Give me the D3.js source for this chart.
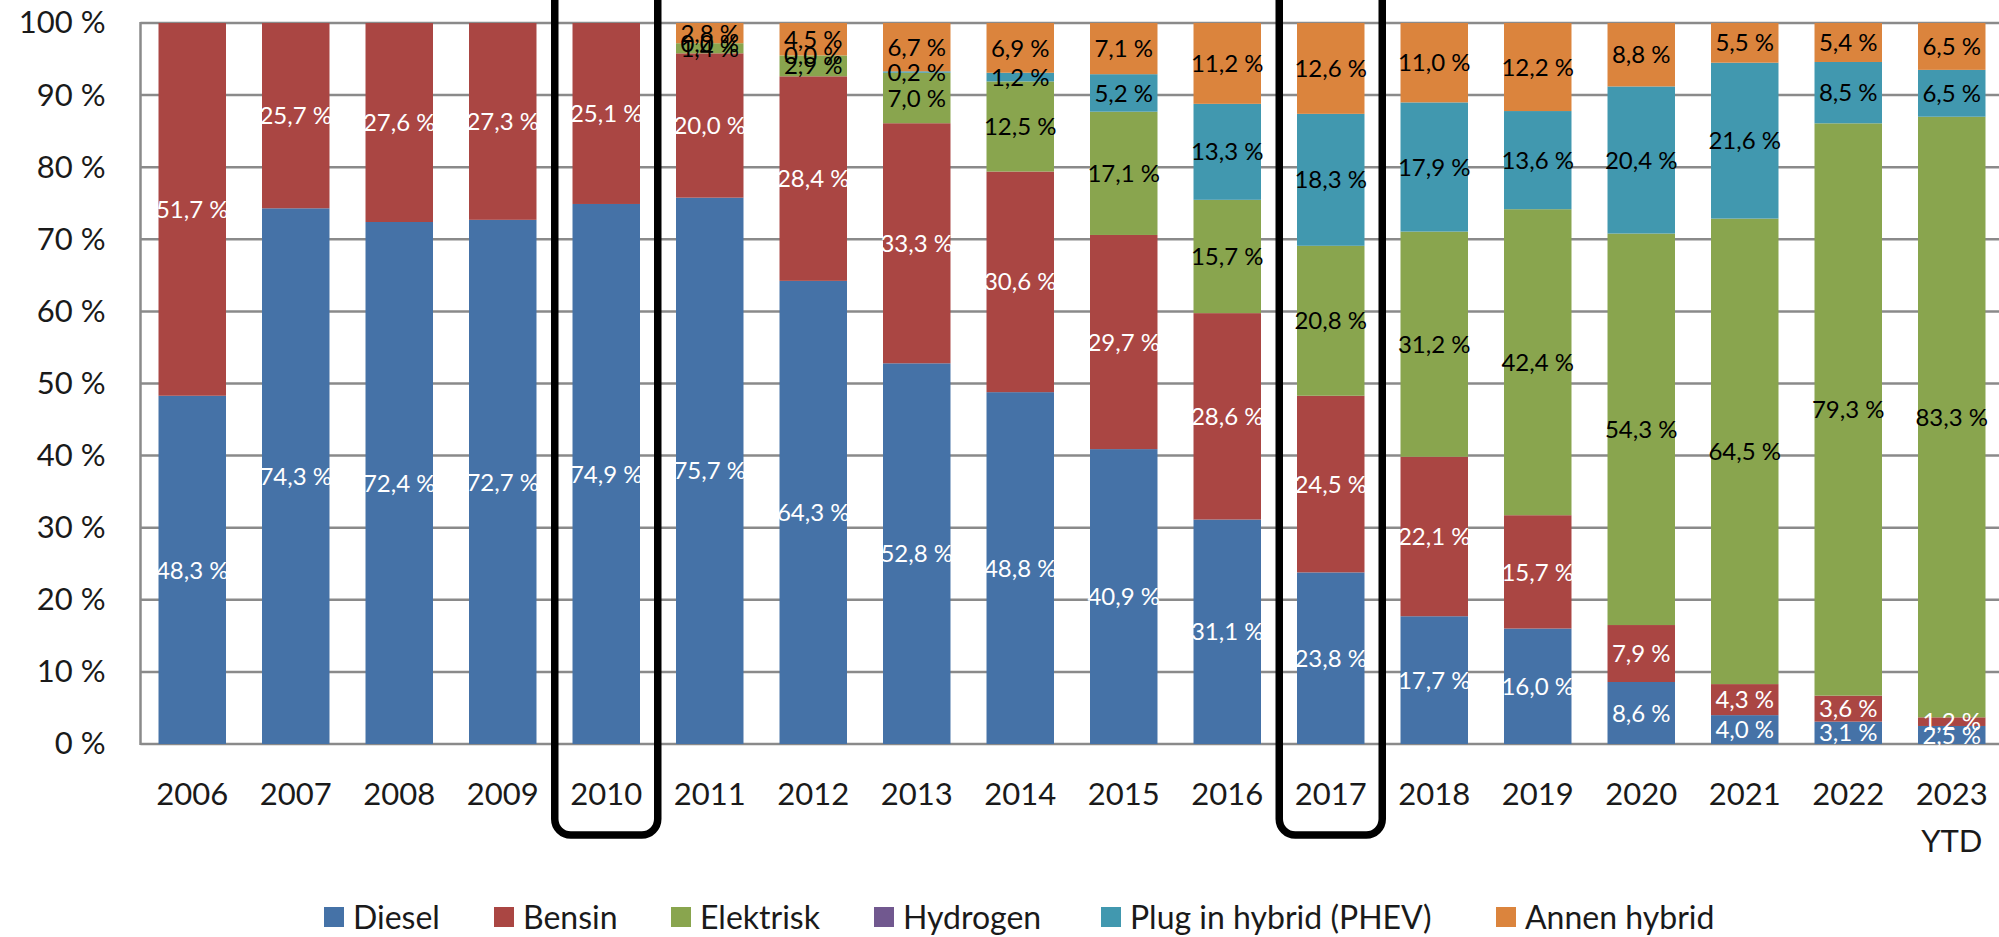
<!DOCTYPE html>
<html>
<head>
<meta charset="utf-8">
<script src="https://cdn.jsdelivr.net/npm/d3@7"></script>
<style>
  html, body { margin: 0; padding: 0; background: #fff; overflow: hidden; }
  text { font-family: Lato, 'Open Sans', sans-serif; }
</style>
</head>
<body>
<div id="chart"></div>
<script>
// years on the x axis (last one gets a second line)
var years = ['2006', '2007', '2008', '2009', '2010', '2011', '2012', '2013', '2014',
    '2015', '2016', '2017', '2018', '2019', '2020', '2021', '2022', '2023 YTD']

// share of new cars per fuel type, percent (null = no label / no segment)
var diesel    = [48.3, 74.3, 72.4, 72.7, 74.9, 75.7, 64.3, 52.8, 48.8, 40.9, 31.1, 23.8, 17.7, 16.0, 8.6, 4.0, 3.1, 2.5]
var bensin    = [51.7, 25.7, 27.6, 27.3, 25.1, 20.0, 28.4, 33.3, 30.6, 29.7, 28.6, 24.5, 22.1, 15.7, 7.9, 4.3, 3.6, 1.2]
var elektrisk = [null, null, null, null, null, 1.4, 2.9, 7.0, 12.5, 17.1, 15.7, 20.8, 31.2, 42.4, 54.3, 64.5, 79.3, 83.3]
var hydrogen  = [null, null, null, null, null, 0.0, 0.0, null, null, null, null, null, null, null, null, null, null, null]
var phev      = [null, null, null, null, null, null, null, 0.2, 1.2, 5.2, 13.3, 18.3, 17.9, 13.6, 20.4, 21.6, 8.5, 6.5]
var annen     = [null, null, null, null, null, 2.8, 4.5, 6.7, 6.9, 7.1, 11.2, 12.6, 11.0, 12.2, 8.8, 5.5, 5.4, 6.5]

var seriesNames = ['Diesel', 'Bensin', 'Elektrisk', 'Hydrogen', 'Plug in hybrid (PHEV)', 'Annen hybrid']
var seriesData = [diesel, bensin, elektrisk, hydrogen, phev, annen]
var colors = ['#4572a7', '#aa4643', '#89a54e', '#71588f', '#4198af', '#db843d']
var labelColors = ['#fff', '#fff', '#000', '#000', '#000', '#000']

var yTicks = [0, 10, 20, 30, 40, 50, 60, 70, 80, 90, 100]
var highlighted = ['2010', '2017']

var width = 1999
var height = 937
var margin = { top: 23, left: 140.5, bottom: 744 }

var svg = d3.select('#chart').append('svg')
    .attr('width', width)
    .attr('height', height)

var x = d3.scaleBand()
    .domain(years)
    .range([margin.left, margin.left + 18 * 103.5])
    .paddingInner(0.348)
    .paddingOuter(0.174)

var y = d3.scaleLinear()
    .domain([0, 100])
    .range([margin.bottom, margin.top])

// rows for d3.stack
var rows = years.map(function(yr, i) {
    var r = { year: yr }
    seriesNames.forEach(function(s, j) { r[s] = seriesData[j][i] || 0 })
    return r
})

var stack = d3.stack()
    .keys(seriesNames)
    .offset(d3.stackOffsetExpand)
var layers = stack(rows)

// gridlines
svg.append('g')
    .attr('class', 'grid')
    .selectAll('line')
    .data(yTicks)
    .enter().append('line')
    .attr('x1', margin.left)
    .attr('x2', width)
    .attr('y1', function(d) { return y(d) })
    .attr('y2', function(d) { return y(d) })
    .attr('stroke', '#8a8a8a')
    .attr('stroke-width', 2.5)

svg.append('line')
    .attr('x1', margin.left).attr('x2', margin.left)
    .attr('y1', y(100) - 1).attr('y2', y(0) + 1)
    .attr('stroke', '#8a8a8a')
    .attr('stroke-width', 2.5)

// y axis labels
var yAxis = d3.axisLeft(y)
    .tickValues(yTicks)
    .tickFormat(function(d) { return d + ' %' })
    .tickSize(0)
    .tickPadding(35)

svg.append('g')
    .attr('transform', 'translate(' + margin.left + ',0)')
    .call(yAxis)
    .call(function(g) { g.select('.domain').remove() })
    .selectAll('text')
    .style('font-family', 'Lato')
    .style('font-size', '31px')
    .attr('fill', '#1a1a1a')

// bars
svg.append('g')
    .attr('class', 'bars')
    .selectAll('g')
    .data(layers)
    .enter().append('g')
    .attr('fill', function(d, i) { return colors[i] })
    .selectAll('rect')
    .data(function(d) { return d })
    .enter().append('rect')
    .attr('x', function(d) { return x(d.data.year) })
    .attr('width', x.bandwidth())
    .attr('y', function(d) { return y(d[1] * 100) })
    .attr('height', function(d) { return y(d[0] * 100) - y(d[1] * 100) })

// data labels
layers.forEach(function(layer, j) {
    svg.append('g')
        .attr('class', 'labels')
        .selectAll('text')
        .data(layer.filter(function(d, i) { return seriesData[j][i] !== null }))
        .enter().append('text')
        .attr('x', function(d) { return x(d.data.year) + x.bandwidth() / 2 })
        .attr('y', function(d) { return y((d[0] + d[1]) / 2 * 100) })
        .attr('dy', '0.36em')
        .attr('text-anchor', 'middle')
        .attr('fill', labelColors[j])
        .style('font-size', '24px')
        .text(function(d) {
            var v = seriesData[j][years.indexOf(d.data.year)]
            return v.toFixed(1).replace('.', ',') + ' %'
        })
})

// x axis labels
var xl = svg.append('g')
    .attr('class', 'xlabels')
    .selectAll('text')
    .data(years)
    .enter().append('text')
    .attr('x', function(d) { return x(d) + x.bandwidth() / 2 })
    .attr('y', 805)
    .attr('text-anchor', 'middle')
    .attr('fill', '#1a1a1a')
    .style('font-size', '31px')

xl.selectAll('tspan')
    .data(function(d) { return d.split(' ') })
    .enter().append('tspan')
    .attr('x', function() { return d3.select(this.parentNode).attr('x') })
    .attr('dy', function(d, i) { return i === 0 ? 0 : 47 })
    .text(function(d) { return d })

// highlight boxes
svg.append('g')
    .selectAll('rect')
    .data(highlighted)
    .enter().append('rect')
    .attr('x', function(d) { return x(d) + x.bandwidth() / 2 - 51.5 })
    .attr('width', 103)
    .attr('y', -40)
    .attr('height', 875)
    .attr('rx', 16)
    .attr('fill', 'none')
    .attr('stroke', '#000')
    .attr('stroke-width', 7.5)

// legend
var legendX = [324, 494, 671, 874, 1101, 1496]
var legend = svg.append('g')
    .attr('class', 'legend')
    .selectAll('g')
    .data(seriesNames)
    .enter().append('g')
    .attr('transform', function(d, i) { return 'translate(' + legendX[i] + ',917)' })

legend.append('rect')
    .attr('x', 0).attr('y', -10)
    .attr('width', 20).attr('height', 20)
    .attr('fill', function(d, i) { return colors[i] })

legend.append('text')
    .attr('x', 29)
    .attr('dy', '0.36em')
    .attr('fill', '#1a1a1a')
    .style('font-size', '32px')
    .text(function(d) { return d })
</script>
</body>
</html>
